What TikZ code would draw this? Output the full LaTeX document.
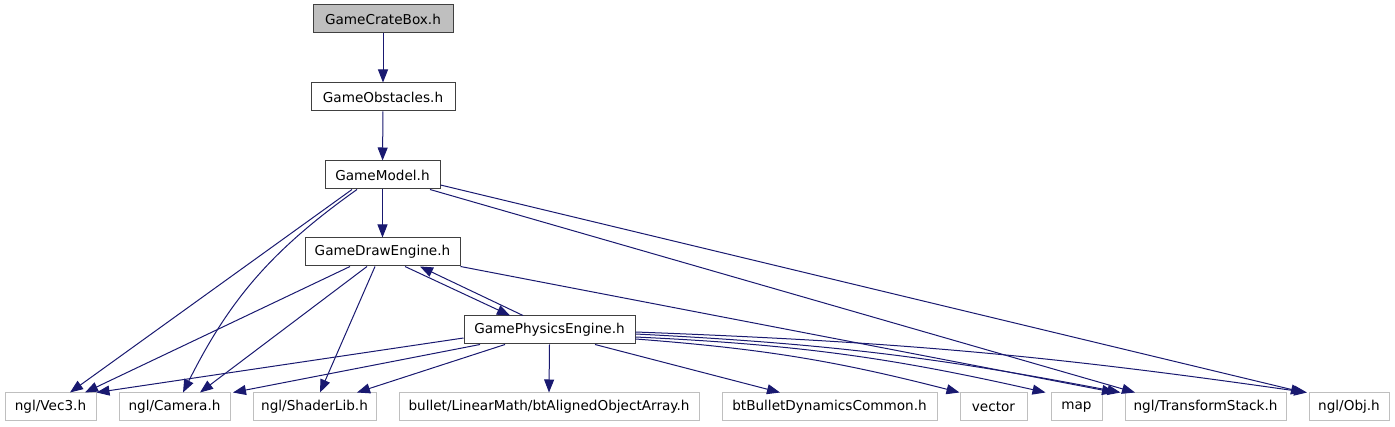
\documentclass[tikz,border=0pt]{standalone}
\usepackage{fontspec}
\setmainfont{DejaVu Sans}
\usepackage{tikz}
\usetikzlibrary{arrows.meta,positioning,calc}
\usepackage{xcolor}
\definecolor{edgeblue}{HTML}{191970}
\definecolor{extgray}{HTML}{BFBFBF}
\definecolor{boxline}{HTML}{404040}

\begin{document}
\begin{tikzpicture}[x=1pt, y=1pt,
  hdr/.style={draw=boxline, line width=1pt, minimum height=28pt, inner sep=0pt,
    font=\fontsize{13.6}{16}\selectfont},
  ext/.style={hdr, draw=extgray},
  dep/.style={draw=edgeblue, line width=1pt, -{Triangle[length=13pt,width=10pt]}}]
  \useasboundingbox (0,0) rectangle (1395,-427);
  % project headers
  \node[hdr, fill=extgray, minimum width=140pt] (crate) at (383,-19) {GameCrateBox.h};
  \node[hdr, minimum width=144pt] (obst) at (383,-97) {GameObstacles.h};
  \node[hdr, minimum width=115pt] (model) at (382.5,-175) {GameModel.h};
  \node[hdr, minimum width=155pt] (draweng) at (382.5,-252) {GameDrawEngine.h};
  \node[hdr, minimum width=171pt] (phys) at (549.5,-330) {GamePhysicsEngine.h};
  % external headers
  \node[ext, minimum width=91pt] (vec3) at (50.5,-407) {ngl/Vec3.h};
  \node[ext, minimum width=111pt] (cam) at (174.5,-407) {ngl/Camera.h};
  \node[ext, minimum width=123pt] (shader) at (314.5,-407) {ngl/ShaderLib.h};
  \node[ext, minimum width=300pt] (btarr) at (549,-407) {bullet/LinearMath/btAlignedObjectArray.h};
  \node[ext, minimum width=215pt] (btbul) at (829.5,-407) {btBulletDynamicsCommon.h};
  \node[ext, minimum width=67pt] (vect) at (993.5,-407) {vector};
  \node[ext, minimum width=51pt] (map) at (1076.5,-407) {map};
  \node[ext, minimum width=161pt] (tstack) at (1205.5,-407) {ngl/TransformStack.h};
  \node[ext, minimum width=80pt] (obj) at (1349,-407) {ngl/Obj.h};

  \draw[dep] (crate) -- (obst);
  \draw[dep] (obst) -- (model);
  % GameModel.h
  \draw[dep] (model) -- (draweng);
  \draw[dep] ([xshift=-30.5]model.south) -- ([xshift=19.5]vec3.north);
  \draw[dep] ([xshift=-25.5]model.south) to[bend right=14] ([xshift=8.5]cam.north);
  \draw[dep] ([xshift=47.5]model.south) -- ([xshift=-70.5]tstack.north);
  \draw[dep] ([yshift=-10]model.east) -- ([xshift=-45]obj.north);
  % GameDrawEngine.h
  \draw[dep] ([xshift=-32.5]draweng.south) -- ([xshift=34.5]vec3.north);
  \draw[dep] ([xshift=-15.5]draweng.south) -- ([xshift=25.5]cam.north);
  \draw[dep] ([xshift=-7.5]draweng.south) -- ([xshift=5.5]shader.north);
  \draw[dep] ([xshift=22.5]draweng.south) -- ([xshift=-39.5]phys.north);
  \draw[dep] (draweng.south east) -- ([xshift=-90.5]tstack.north);
  % GamePhysicsEngine.h
  \draw[dep] ([xshift=-26.5]phys.north) -- ([xshift=37.5]draweng.south);
  \draw[dep] ([yshift=-8]phys.west) -- (vec3.north east);
  \draw[dep] ([xshift=-69.5]phys.south) -- ([xshift=58.5]cam.north);
  \draw[dep] ([xshift=-44.5]phys.south) -- ([xshift=42.5]shader.north);
  \draw[dep] (phys.south) -- (btarr.north);
  \draw[dep] ([xshift=45.5]phys.south) -- ([xshift=-49.5]btbul.north);
  \draw[dep] ([yshift=-9]phys.east) to[bend left=5] (vect.north west);
  \draw[dep] ([yshift=-7]phys.east) to[bend left=5] ([xshift=-5]map.north west);
  \draw[dep] ([yshift=-4]phys.east) to[bend left=4] ([xshift=-85]tstack.north);
  \draw[dep] ([yshift=-2]phys.east) to[bend left=3] ([xshift=-42]obj.north);
\end{tikzpicture}
\end{document}
